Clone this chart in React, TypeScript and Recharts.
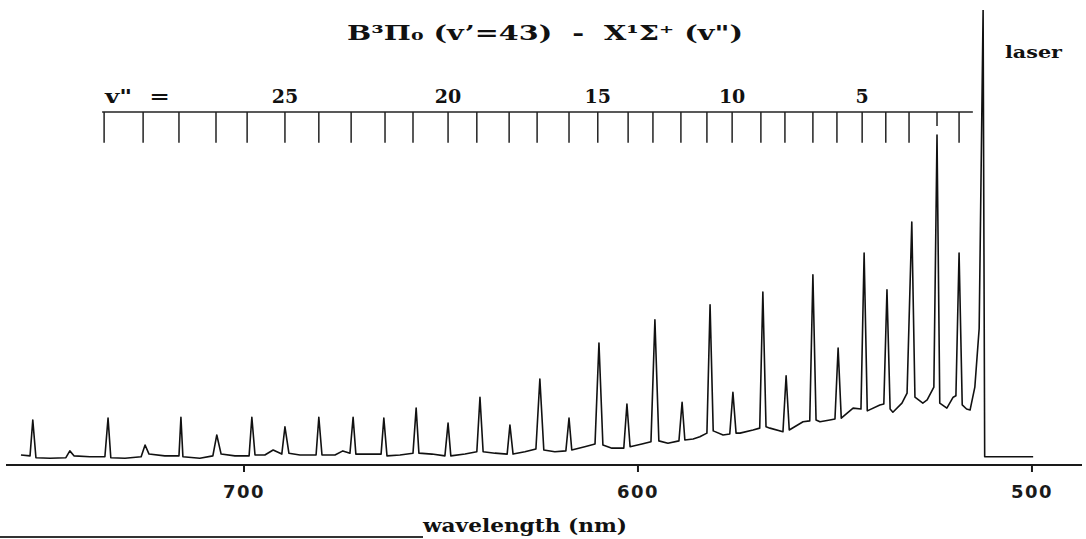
import React from 'react';
import { LineChart, Line, XAxis, YAxis, ReferenceLine, ReferenceDot } from 'recharts';

// Emission peaks: wavelength (nm) and relative intensity (laser line = 100)
const peakNm = [
  753.6, 744.2, 734.5, 725.1, 716.0, 706.9, 698.0, 692.6, 689.6, 681.0,
  674.9, 672.3, 664.5, 656.3, 648.2, 640.1, 632.5, 624.9, 617.5, 609.9,
  602.8, 595.7, 588.8, 581.7, 575.9, 568.3, 562.4, 555.6, 549.2, 542.6,
  536.8, 530.5, 524.1, 518.5, 512.4,
];
const peakIntensity = [
  9.9, 3.1, 10.3, 4.4, 10.5, 6.6, 10.5, 3.3, 8.4, 10.5,
  3.1, 10.5, 10.3, 12.5, 9.2, 14.9, 8.8, 18.9, 10.3, 26.8,
  13.4, 31.9, 13.8, 35.2, 16.0, 38.0, 19.6, 41.8, 25.7, 46.6,
  38.5, 53.4, 72.5, 46.6, 100,
];

// Background / valley points of the trace
const floorNm = [
  756.6, 754.3, 752.8, 749.2, 745.2, 743.1, 739.1, 735.3, 733.8, 730.2,
  726.1, 724.1, 720.1, 716.5, 715.5, 711.2, 707.9, 705.8, 702.3, 698.7,
  697.2, 694.7, 690.4, 688.6, 685.8, 681.7, 680.2, 676.9, 673.1, 671.6,
  668.0, 665.2, 663.7, 660.4, 657.1, 655.6, 652.3, 649.0, 647.5, 643.9,
  640.9, 639.3, 636.3, 633.2, 631.7, 628.7, 625.9, 623.9, 621.1, 618.3,
  616.8, 613.5, 610.9, 608.9, 606.6, 603.6, 602.0, 599.0, 596.7, 594.7,
  592.4, 589.6, 588.1, 586.0, 584.3, 582.5, 580.9, 578.4, 576.7, 575.1,
  574.1, 570.8, 569.1, 567.5, 566.5, 563.2, 561.6, 558.1, 556.4, 554.8,
  553.8, 551.3, 550.0, 548.4, 545.4, 543.4, 541.8, 538.6, 537.6, 536.0,
  535.3, 533.0, 531.7, 529.7, 527.7, 526.6, 524.9, 523.4, 521.6, 520.0,
  519.3, 517.7, 516.6, 515.7, 514.5, 513.4, 512.0, 499.7,
];
const floorIntensity = [
  2.2, 2.0, 1.6, 1.5, 1.6, 2.0, 1.8, 1.8, 1.6, 1.5,
  1.8, 2.4, 2.0, 2.0, 1.8, 1.5, 2.0, 2.4, 2.0, 2.0,
  2.2, 2.2, 2.4, 2.6, 2.2, 2.2, 2.2, 2.2, 2.6, 2.4,
  2.4, 2.4, 2.0, 2.2, 2.6, 2.6, 2.4, 2.0, 2.0, 2.4,
  2.9, 2.9, 2.6, 2.4, 2.4, 2.9, 3.5, 3.3, 2.9, 3.1,
  3.3, 4.0, 4.6, 4.4, 3.7, 3.7, 4.0, 4.6, 5.1, 5.3,
  4.8, 5.3, 5.5, 5.7, 6.2, 7.0, 7.5, 6.6, 6.8, 7.0,
  7.0, 7.7, 8.1, 8.4, 8.1, 7.3, 7.7, 9.5, 9.7, 9.9,
  9.5, 9.9, 10.1, 10.3, 12.5, 12.3, 11.9, 13.2, 13.4, 12.3,
  11.6, 13.6, 15.8, 14.9, 13.6, 14.3, 17.1, 13.6, 12.5, 14.9,
  15.2, 13.2, 12.3, 12.1, 17.1, 30, 1.8, 1.8,
];

// v" assignment comb (v" = 30 ... 1)
const combV = [30, 29, 28, 27, 26, 25, 24, 23, 22, 21, 20, 19, 18, 17, 16, 15, 14, 13, 12, 11, 10, 9, 8, 7, 6, 5, 4, 3, 2, 1];
const combNm = [
  735.5, 725.6, 716.5, 707.1, 699.2, 689.6, 681.0, 672.8, 664.2, 657.1,
  648.2, 640.9, 632.7, 625.6, 617.5, 610.2, 602.5, 596.2, 589.1, 582.5,
  576.1, 568.8, 562.7, 555.6, 549.5, 543.1, 537.1, 531.2, 524.1, 518.5,
];
const combLabelV = [25, 20, 15, 10, 5];
const xTicks = [700, 600, 500];

const trace = [
  ...peakNm.map((nm, i) => ({ nm, intensity: peakIntensity[i] })),
  ...floorNm.map((nm, i) => ({ nm, intensity: floorIntensity[i] })),
].sort((a, b) => b.nm - a.nm);

const COMB_TOP = 77.6;
const COMB_BOTTOM = 70.8;
const COMB_SHORT = 74.5;
const COMB_LABEL = 81.1;
const SERIF = '"DejaVu Serif", serif';

export default function App() {
  return (
    <div style={{ position: 'absolute', left: 0, top: 0, width: 1086, height: 539, background: '#fff' }}>
      <LineChart width={1086} height={539} data={trace} margin={{ top: 10, right: 4, bottom: 34, left: 6 }}>
        <XAxis
          dataKey="nm"
          type="number"
          domain={[487.3, 760.4]}
          reversed
          allowDataOverflow
          ticks={xTicks}
          height={40}
          tickSize={7}
          tickMargin={13}
          axisLine={{ stroke: '#1a1a1a', strokeWidth: 2 }}
          tickLine={{ stroke: '#1a1a1a', strokeWidth: 2 }}
          tick={{ fill: '#1a1a1a', fontSize: 18, fontFamily: '"DejaVu Sans", sans-serif', fontWeight: 'bold', letterSpacing: 1.5 }}
        />
        <YAxis hide type="number" domain={[0, 100]} allowDataOverflow />
        <ReferenceLine
          segment={[{ x: 736.0, y: COMB_TOP }, { x: 515.0, y: COMB_TOP }]}
          stroke="#222"
          strokeWidth={1.5}
        />
        {combNm.map((nm, i) => (
          <ReferenceLine
            key={'c' + i}
            segment={[{ x: nm, y: COMB_TOP }, { x: nm, y: combV[i] === 2 ? COMB_SHORT : COMB_BOTTOM }]}
            stroke="#222"
            strokeWidth={1.5}
          />
        ))}
        {combLabelV.map((v) => (
          <ReferenceDot
            key={'l' + v}
            x={combNm[combV.indexOf(v)]}
            y={COMB_LABEL}
            r={0}
            fill="none"
            stroke="none"
            label={{ value: String(v), position: 'center', fill: '#111', fontSize: 19, fontWeight: 'bold', fontFamily: SERIF }}
          />
        ))}
        <Line
          type="linear"
          dataKey="intensity"
          stroke="#111"
          strokeWidth={1.6}
          strokeLinejoin="round"
          dot={false}
          isAnimationActive={false}
        />
        <text x={545} y={40} textAnchor="middle" fontFamily={SERIF} fontWeight="bold" fontSize={20} fill="#111" textLength={396} lengthAdjust="spacingAndGlyphs">
          {'B\u00b3\u03a0\u2080 (v\u2019=43)\u00a0\u00a0-\u00a0\u00a0X\u00b9\u03a3\u207a (v")'}
        </text>
        <text x={105} y={103} fontFamily={SERIF} fontWeight="bold" fontSize={19} fill="#111" textLength={65} lengthAdjust="spacingAndGlyphs">
          {'v"\u00a0\u00a0='}
        </text>
        <text x={1005} y={58} fontFamily={SERIF} fontWeight="bold" fontSize={17} fill="#111" textLength={57} lengthAdjust="spacingAndGlyphs">
          laser
        </text>
        <text x={423} y={532} fontFamily={SERIF} fontWeight="bold" fontSize={18} fill="#111" textLength={204} lengthAdjust="spacingAndGlyphs">
          wavelength (nm)
        </text>
        <line x1={0} y1={537} x2={423} y2={537} stroke="#333" strokeWidth={2} />
      </LineChart>
    </div>
  );
}
